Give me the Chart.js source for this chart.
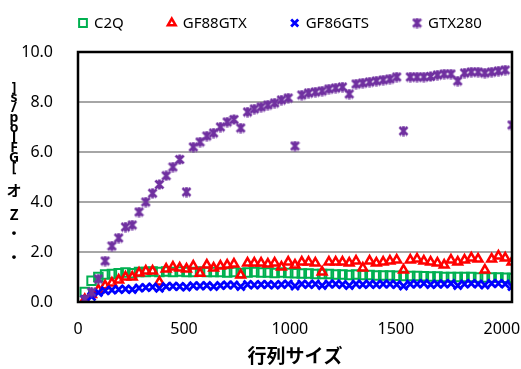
<!DOCTYPE html>
<html>
<head>
<meta charset="utf-8">
<script src="https://cdn.jsdelivr.net/npm/chart.js@4/dist/chart.umd.min.js"></script>
<style>
  html, body { margin: 0; padding: 0; background: #fff; }
  #wrap { width: 521px; height: 369px; }
</style>
</head>
<body>
<div id="wrap"><canvas id="perfChart" width="521" height="369"></canvas></div>
<script>
// matrix sizes (x axis)
const sizes = [32, 64, 96, 128, 160, 192, 224, 256, 288, 320, 352, 384, 416, 448, 480, 512,
  544, 576, 608, 640, 672, 704, 736, 768, 800, 832, 864, 896, 928, 960, 992, 1024,
  1056, 1088, 1120, 1152, 1184, 1216, 1248, 1280, 1312, 1344, 1376, 1408, 1440, 1472, 1504, 1536,
  1568, 1600, 1632, 1664, 1696, 1728, 1760, 1792, 1824, 1856, 1888, 1920, 1952, 1984, 2016, 2048];

const c2q = [0.4, 0.85, 1.0, 1.1, 1.12, 1.15, 1.18, 1.15, 1.2, 1.2, 1.22, 1.2, 1.22, 1.2, 1.22, 1.2,
  1.2, 1.22, 1.2, 1.2, 1.2, 1.18, 1.2, 1.16, 1.18, 1.2, 1.18, 1.18, 1.16, 1.18, 1.16, 1.15,
  1.14, 1.14, 1.12, 1.12, 1.12, 1.1, 1.1, 1.08, 1.1, 1.08, 1.08, 1.06, 1.06, 1.06, 1.05, 1.04,
  1.04, 1.04, 1.03, 1.02, 1.02, 1.0, 1.0, 1.0, 1.0, 1.0, 0.98, 0.98, 0.98, 0.98, 0.97, 0.96];

const gf88gtx = [0.1, 0.3, 0.48, 0.65, 0.76, 0.88, 1.0, 1.0, 1.16, 1.24, 1.24, 0.8, 1.32, 1.4, 1.36, 1.32,
  1.44, 1.15, 1.48, 1.36, 1.44, 1.48, 1.52, 1.08, 1.56, 1.56, 1.56, 1.52, 1.56, 1.4, 1.6, 1.48,
  1.6, 1.6, 1.56, 1.2, 1.6, 1.6, 1.6, 1.56, 1.64, 1.36, 1.64, 1.56, 1.6, 1.64, 1.68, 1.28,
  1.68, 1.72, 1.64, 1.6, 1.56, 1.48, 1.68, 1.6, 1.68, 1.76, 1.72, 1.28, 1.72, 1.84, 1.76, 1.6];

const gf86gts = [0.1, 0.22, 0.38, 0.45, 0.48, 0.5, 0.52, 0.5, 0.56, 0.58, 0.6, 0.55, 0.62, 0.63, 0.62, 0.6,
  0.65, 0.64, 0.66, 0.62, 0.66, 0.68, 0.68, 0.62, 0.7, 0.68, 0.7, 0.7, 0.68, 0.7, 0.72, 0.64,
  0.72, 0.7, 0.72, 0.66, 0.72, 0.72, 0.7, 0.66, 0.72, 0.7, 0.72, 0.7, 0.72, 0.72, 0.7, 0.64,
  0.72, 0.72, 0.74, 0.7, 0.72, 0.72, 0.74, 0.66, 0.72, 0.74, 0.72, 0.68, 0.74, 0.74, 0.72, 0.62];

const gtx280 = [0.1, 0.4, 0.92, 1.64, 2.24, 2.56, 3.0, 3.08, 3.6, 4.0, 4.35, 4.7, 5.05, 5.4, 5.7, 4.4,
  6.2, 6.4, 6.64, 6.76, 7.0, 7.2, 7.3, 6.96, 7.6, 7.72, 7.8, 7.88, 7.96, 8.08, 8.16, 6.24,
  8.28, 8.36, 8.4, 8.44, 8.52, 8.56, 8.6, 8.32, 8.72, 8.76, 8.8, 8.84, 8.88, 8.92, 9.0, 6.84,
  9.0, 9.0, 9.0, 9.02, 9.08, 9.12, 9.12, 8.84, 9.16, 9.2, 9.2, 9.16, 9.2, 9.24, 9.28, 7.08];

const seriesNames = ["C2Q", "GF88GTX", "GF86GTS", "GTX280"];
const xTicks = [0, 500, 1000, 1500, 2000];
const xTitle = "行列サイズ";
// y title as it appears in the picture, one glyph per row
const yTitleChars = ["]", "s", "/", "p", "o", "l", "F", "G", "[", "オ", "Z", "・", "・"];

function toPoints(ys) {
  return sizes.map((x, i) => ({ x: x, y: ys[i] }));
}

// Excel style star marker: an x with a bar through it
function makeStarMarker(color) {
  const c = document.createElement("canvas");
  c.width = 11;
  c.height = 11;
  const g = c.getContext("2d");
  g.strokeStyle = color;
  g.lineWidth = 2.7;
  g.beginPath();
  g.moveTo(1.5, 1.5); g.lineTo(9.5, 9.5);
  g.moveTo(9.5, 1.5); g.lineTo(1.5, 9.5);
  g.moveTo(5.5, 0.5); g.lineTo(5.5, 10.5);
  g.stroke();
  return c;
}
const starMarker = makeStarMarker("#7030A0");

// black frame round the plot, stacked y title and the legend row
const framePlugin = {
  id: "frame",
  afterDraw(chart) {
    const { ctx, chartArea } = chart;
    ctx.save();
    ctx.strokeStyle = "#000";
    ctx.lineWidth = 2.5;
    ctx.strokeRect(chartArea.left, chartArea.top, chartArea.right - chartArea.left, chartArea.bottom - chartArea.top);

    ctx.fillStyle = "#000";
    ctx.textAlign = "center";
    ctx.textBaseline = "middle";
    const tx = chartArea.left - 64;
    let ty = chartArea.top + 36;
    yTitleChars.forEach((ch, i) => {
      if (i < 9) {
        ctx.font = "bold 14px 'Noto Sans', sans-serif";
        ctx.fillText(ch, tx, ty);
        ty += 10;
      } else {
        ctx.font = "bold 15px 'Noto Sans CJK JP', 'Noto Sans', sans-serif";
        if (i === 9) ty += 12;
        ctx.fillText(ch, tx, ty);
        ty += (i === 9) ? 24 : (i === 10 ? 19 : 24);
      }
    });

    // legend
    ctx.font = "15px 'Noto Sans', sans-serif";
    ctx.textAlign = "left";
    let lx = chartArea.left + 1;
    const ly = chartArea.top - 29;
    chart.data.datasets.forEach(ds => {
      ctx.strokeStyle = ds.borderColor;
      ctx.fillStyle = ds.backgroundColor;
      ctx.lineWidth = ds.pointBorderWidth;
      Chart.helpers.drawPoint(ctx, { pointStyle: ds.pointStyle, radius: ds.pointRadius - 0.5, borderWidth: ds.pointBorderWidth, rotation: 0 }, lx + 4, ly);
      ctx.fillStyle = "#000";
      ctx.fillText(ds.label, lx + 15, ly + 1);
      lx += 15 + ctx.measureText(ds.label).width + 44;
    });
    ctx.restore();
  }
};

const ctx = document.getElementById("perfChart").getContext("2d");
const perfChart = new Chart(ctx, {
  type: "scatter",
  data: {
    datasets: [
      { label: seriesNames[0], data: toPoints(c2q), pointStyle: "rect", pointRadius: 6,
        borderColor: "#00B050", backgroundColor: "rgba(255,255,255,0)", pointBorderWidth: 2, order: 3 },
      { label: seriesNames[1], data: toPoints(gf88gtx), pointStyle: "triangle", pointRadius: 5,
        borderColor: "#FF0000", backgroundColor: "rgba(255,255,255,0)", pointBorderWidth: 2.5, order: 2 },
      { label: seriesNames[2], data: toPoints(gf86gts), pointStyle: "crossRot", pointRadius: 5.5,
        borderColor: "#0000FF", backgroundColor: "#0000FF", pointBorderWidth: 2.8, order: 1 },
      { label: seriesNames[3], data: toPoints(gtx280), pointStyle: starMarker, pointRadius: 5.5,
        borderColor: "#7030A0", backgroundColor: "#7030A0", pointBorderWidth: 2.5, order: 0 }
    ]
  },
  options: {
    responsive: false,
    animation: false,
    events: [],
    layout: { autoPadding: false, padding: { left: 21, right: 9, top: 52, bottom: 2 } },
    plugins: {
      tooltip: { enabled: false },
      legend: { display: false }
    },
    scales: {
      x: {
        type: "linear",
        min: 0,
        max: 2048,
        grid: { display: false, drawTicks: false },
        border: { display: false },
        afterBuildTicks: s => { s.ticks = xTicks.map(v => ({ value: v })); },
        afterFit: s => { s.height = 65; s.paddingLeft = 0; s.paddingRight = 0; },
        ticks: {
          padding: 18,
          maxRotation: 0,
          autoSkip: false,
          color: "#000",
          font: { family: "'Noto Sans', sans-serif", size: 16 },
          callback: v => String(v)
        },
        title: {
          display: true,
          text: xTitle,
          color: "#000",
          padding: { top: 2, bottom: 0 },
          font: { family: "'Noto Sans CJK JP', sans-serif", size: 19, weight: "bold" }
        }
      },
      y: {
        min: 0,
        max: 10,
        afterFit: s => { s.width = 57; },
        grid: {
          drawTicks: false,
          lineWidth: 2,
          color: c => (c.tick && (c.tick.value === 0 || c.tick.value === 10)) ? "rgba(0,0,0,0)" : "#A6A6A6"
        },
        border: { display: false },
        ticks: {
          stepSize: 2,
          padding: 25,
          color: "#000",
          font: { family: "'Noto Sans', sans-serif", size: 16 },
          callback: v => v.toFixed(1)
        }
      }
    }
  },
  plugins: [framePlugin]
});
</script>
</body>
</html>
